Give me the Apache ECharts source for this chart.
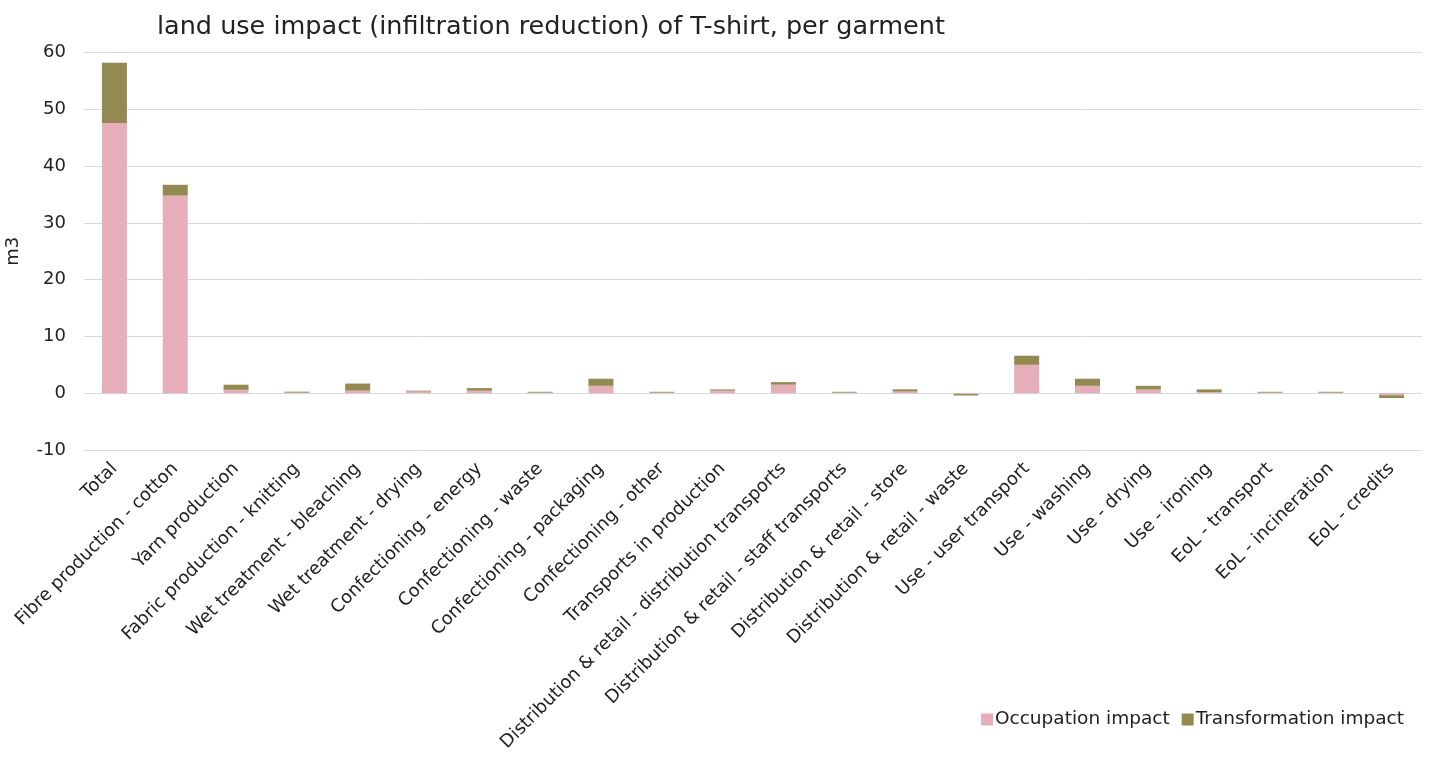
<!DOCTYPE html>
<html><head><meta charset="utf-8">
<script src="https://cdn.jsdelivr.net/npm/echarts@6/dist/echarts.min.js"></script>
<style>html,body{margin:0;padding:0;background:#fff}#c{width:1437px;height:763px}</style>
</head><body><div id="c"></div>
<script>
const categories = ["Total","Fibre production - cotton","Yarn production","Fabric production - knitting","Wet treatment - bleaching","Wet treatment - drying","Confectioning - energy","Confectioning - waste","Confectioning - packaging","Confectioning - other","Transports in production","Distribution & retail - distribution transports","Distribution & retail - staff transports","Distribution & retail - store","Distribution & retail - waste","Use - user transport","Use - washing","Use - drying","Use - ironing","EoL - transport","EoL - incineration","EoL - credits"];
const occupation = [47.6,34.8,0.6,0.1,0.45,0.3,0.45,0.1,1.3,0.1,0.45,1.5,0.1,0.3,-0.15,5.0,1.3,0.65,0.2,0.1,0.1,-0.35];
const transformation = [10.6,1.9,0.9,0.17,1.25,0.15,0.45,0.15,1.25,0.15,0.22,0.45,0.15,0.38,-0.25,1.6,1.25,0.65,0.47,0.15,0.15,-0.5];
const yTicks = {min:-10,max:60,interval:10};
const font = "'DejaVu Sans', sans-serif";
const chart = echarts.init(document.getElementById('c'));
chart.setOption({
  animation:false,
  title:{text:"land use impact (infiltration reduction) of T-shirt, per garment",left:152,top:9,
    textStyle:{fontFamily:font,fontWeight:'normal',fontSize:25.5,color:'#222'}},
  legend:{right:28,top:705,itemWidth:12,itemHeight:12,itemGap:12,icon:'rect',
    textStyle:{fontFamily:font,fontSize:18.5,color:'#222',padding:[0,0,0,-3]},
    data:["Occupation impact","Transformation impact"]},
  grid:{left:84,right:15,top:52.5,bottom:313,containLabel:false,outerBoundsMode:'none'},
  xAxis:{type:'category',data:categories,
    axisLine:{show:false},axisTick:{show:false},
    axisLabel:{rotate:45,interval:0,fontFamily:font,fontSize:18,color:'#222',margin:16}},
  yAxis:{type:'value',min:yTicks.min,max:yTicks.max,interval:yTicks.interval,
    name:'m3',nameLocation:'middle',nameGap:62,nameRotate:90,
    nameTextStyle:{fontFamily:font,fontSize:18,color:'#222'},
    axisLabel:{fontFamily:font,fontSize:18,color:'#222',margin:18},
    splitLine:{lineStyle:{color:'#d9d9d9',width:1}},
    axisLine:{show:false},axisTick:{show:false}},
  series:[
    {name:"Occupation impact",type:'bar',stack:'a',data:occupation,barWidth:25,
     itemStyle:{color:'#E6AEB8'}},
    {name:"Transformation impact",type:'bar',stack:'a',data:transformation,barWidth:25,
     itemStyle:{color:'#938A52'}}
  ]
});
</script></body></html>
